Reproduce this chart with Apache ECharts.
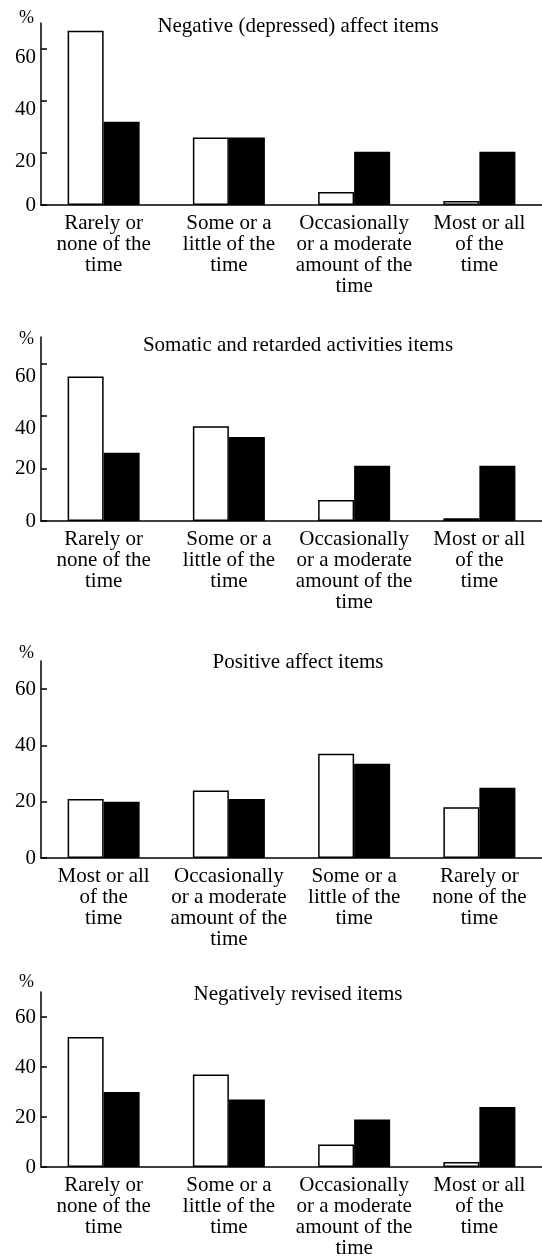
<!DOCTYPE html>
<html>
<head>
<meta charset="utf-8">
<script src="https://cdn.jsdelivr.net/npm/echarts@6/dist/echarts.min.js"></script>
<style>
html,body{margin:0;padding:0;background:#fff;}
#chart{width:542px;height:1259px;}
</style>
</head>
<body>
<div id="chart"></div>
<script>
// ---- data ----
const catsNeg = ['Rarely or\nnone of the\ntime', 'Some or a\nlittle of the\ntime', 'Occasionally\nor a moderate\namount of the\ntime', 'Most or all\nof the\ntime'];
const catsPos = ['Most or all\nof the\ntime', 'Occasionally\nor a moderate\namount of the\ntime', 'Some or a\nlittle of the\ntime', 'Rarely or\nnone of the\ntime'];
const panelTitles = ['Negative (depressed) affect items', 'Somatic and retarded activities items', 'Positive affect items', 'Negatively revised items'];
const yTicks = [0, 20, 40, 60];
const whiteNegAffect = [67, 26, 5, 1.5];
const blackNegAffect = [32, 26, 20.5, 20.5];
const whiteSomatic = [55, 36, 8, 1];
const blackSomatic = [26, 32, 21, 21];
const whitePositive = [21, 24, 37, 18];
const blackPositive = [20, 21, 33.5, 25];
const whiteRevised = [52, 37, 9, 2];
const blackRevised = [30, 27, 19, 24];

const panelCats = [catsNeg, catsNeg, catsPos, catsNeg];
const panelWhite = [whiteNegAffect, whiteSomatic, whitePositive, whiteRevised];
const panelBlack = [blackNegAffect, blackSomatic, blackPositive, blackRevised];

// ---- layout ----
const FONT = 'Liberation Serif';
const grids = [
  {top: 23, height: 182},
  {top: 337, height: 184},
  {top: 661, height: 197},
  {top: 992, height: 191}
];
const titleMid = [26, 345, 662, 994];
const pctGap = [5, -2, 8, 10];
// label vertical shifts (reference labels sit slightly below their ticks in upper panels)
const labelShift = [
  {20: 16, 40: 16, 60: 16},
  {40: 26, 60: 26},
  {},
  {}
];

const chart = echarts.init(document.getElementById('chart'), null, {renderer: 'canvas'});
const option = {
  animation: false,
  backgroundColor: '#fff',
  title: [], grid: [], xAxis: [], yAxis: [], series: []
};

for (let i = 0; i < 4; i++) {
  option.title.push({
    text: panelTitles[i], left: 298, top: titleMid[i] - 11, textAlign: 'center', padding: 0,
    textStyle: {fontFamily: FONT, fontSize: 21, fontWeight: 'normal', color: '#000', lineHeight: 22}
  });
  option.grid.push({left: 41, width: 503, top: grids[i].top, height: grids[i].height});
  option.xAxis.push({
    type: 'category', gridIndex: i, data: panelCats[i],
    axisLine: {lineStyle: {color: '#000', width: 1.5}},
    axisTick: {show: false},
    axisLabel: {fontFamily: FONT, fontSize: 21, lineHeight: 21, color: '#000', margin: 8, interval: 0}
  });
  const shift = labelShift[i];
  const rich = {};
  yTicks.forEach(v => { rich['v' + v] = {fontFamily: FONT, fontSize: 21, color: '#000', padding: [shift[v] || 0, 0, 0, 0]}; });
  option.yAxis.push({
    type: 'value', gridIndex: i, min: 0, max: 70, interval: 20,
    name: '%', nameLocation: 'end', nameGap: pctGap[i],
    nameTextStyle: {fontFamily: FONT, fontSize: 18, color: '#000', align: 'right', verticalAlign: 'middle', padding: [0, 7, 0, 0]},
    splitLine: {show: false},
    axisLine: {show: true, lineStyle: {color: '#000', width: 1.5}},
    axisTick: {show: true, inside: true, length: 6, lineStyle: {color: '#000', width: 1.5}, customValues: yTicks},
    axisLabel: {
      customValues: yTicks, margin: 5, color: '#000', fontFamily: FONT, fontSize: 21,
      formatter: v => '{v' + v + '|' + v + '}', rich: rich
    }
  });
  option.series.push({
    type: 'bar', name: 'Group A', xAxisIndex: i, yAxisIndex: i, data: panelWhite[i],
    barWidth: 36, barGap: '0%',
    itemStyle: {color: '#fff', borderColor: '#000', borderWidth: 1.5}
  });
  option.series.push({
    type: 'bar', name: 'Group B', xAxisIndex: i, yAxisIndex: i, data: panelBlack[i],
    barWidth: 36, barGap: '0%',
    itemStyle: {color: '#000', borderColor: '#000', borderWidth: 1.5}
  });
}
chart.setOption(option);
</script>
</body>
</html>
